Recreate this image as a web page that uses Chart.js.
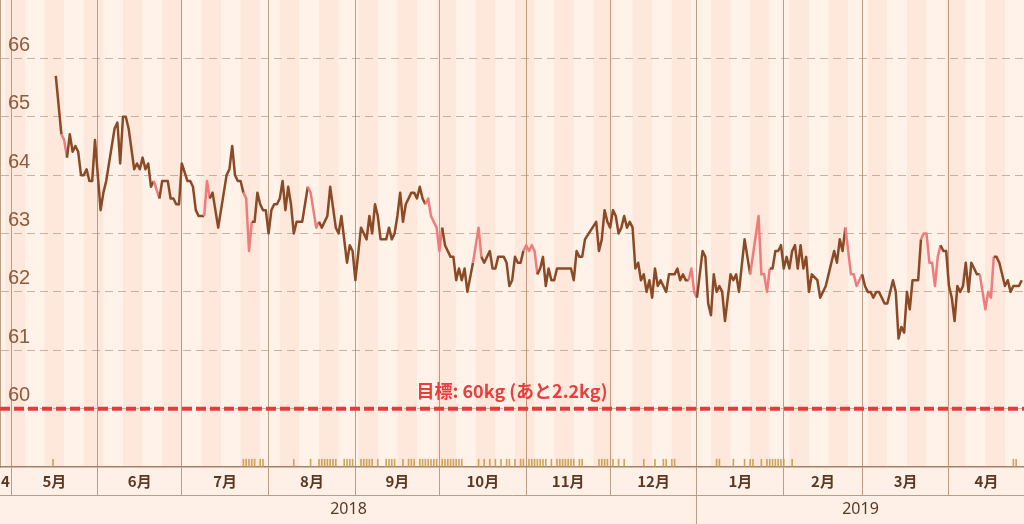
<!DOCTYPE html>
<html>
<head>
<meta charset="utf-8">
<script src="https://cdn.jsdelivr.net/npm/chart.js@4.4.0/dist/chart.umd.min.js"></script>
<style>
  html, body { margin: 0; padding: 0; background: #fef0e6; }
  #wrap { width: 1024px; height: 524px; }
</style>
</head>
<body>
<div id="wrap"><canvas id="chartWeight"></canvas></div>
<script>
// day numbers count from 2018-05-01 (day 0)
var days = [
  16, 18, 19, 20, 21, 22, 23, 24, 25, 26,
  27, 28, 29, 30, 32, 33, 34, 35, 37, 38,
  39, 40, 41, 42, 44, 45, 46, 47, 48, 49,
  50, 51, 53, 54, 56, 57, 58, 59, 60, 61,
  63, 64, 65, 66, 67, 69, 70, 71, 72, 74,
  76, 77, 78, 79, 80, 81, 82, 83, 84, 85,
  86, 87, 88, 89, 90, 91, 92, 93, 94, 95,
  96, 97, 98, 99, 100, 101, 102, 104, 106, 107,
  109, 110, 111, 113, 114, 116, 117, 118, 120, 121,
  122, 123, 125, 126, 127, 128, 129, 130, 131, 132,
  134, 135, 136, 137, 138, 139, 140, 141, 142, 143,
  144, 145, 146, 147, 148, 149, 150, 152, 153, 154,
  155, 157, 158, 159, 160, 161, 162, 163, 165, 167,
  168, 169, 170, 171, 172, 173, 174, 176, 177, 178,
  179, 180, 181, 182, 183, 184, 185, 186, 187, 188,
  189, 190, 191, 192, 193, 194, 195, 200, 201, 202,
  203, 204, 205, 209, 210, 211, 212, 213, 214, 215,
  216, 217, 218, 219, 220, 221, 222, 223, 224, 225,
  226, 227, 228, 229, 230, 231, 232, 234, 235, 237,
  238, 239, 240, 241, 242, 243, 244, 245, 246, 247,
  248, 249, 250, 251, 252, 253, 254, 255, 257, 258,
  259, 260, 262, 264, 267, 268, 269, 270, 271, 272,
  273, 274, 275, 276, 277, 278, 279, 280, 281, 282,
  283, 284, 285, 286, 288, 289, 291, 292, 294, 295,
  296, 297, 298, 300, 301, 302, 303, 304, 305, 306,
  307, 308, 309, 310, 312, 313, 315, 316, 317, 318,
  319, 320, 321, 322, 324, 325, 326, 327, 328, 329,
  330, 331, 332, 333, 334, 335, 336, 337, 338, 339,
  340, 341, 342, 343, 344, 345, 346, 347, 348, 349,
  350, 351, 352, 353, 355, 356, 357, 358, 360, 361
];
var weights = [
  65.7, 64.7, 64.6, 64.3, 64.7, 64.4, 64.5, 64.4, 64.0, 64.0,
  64.1, 63.9, 63.9, 64.6, 63.4, 63.7, 63.9, 64.2, 64.8, 64.9,
  64.2, 65.0, 65.0, 64.8, 64.1, 64.2, 64.1, 64.3, 64.1, 64.2,
  63.8, 63.9, 63.6, 63.9, 63.9, 63.6, 63.6, 63.5, 63.5, 64.2,
  63.9, 63.9, 63.8, 63.4, 63.3, 63.3, 63.9, 63.6, 63.7, 63.1,
  63.7, 64.0, 64.1, 64.5, 64.0, 63.9, 63.9, 63.7, 63.6, 62.7,
  63.2, 63.2, 63.7, 63.5, 63.4, 63.4, 63.0, 63.4, 63.5, 63.5,
  63.6, 63.9, 63.4, 63.8, 63.5, 63.0, 63.2, 63.2, 63.8, 63.7,
  63.1, 63.2, 63.1, 63.3, 63.8, 63.1, 63.0, 63.3, 62.5, 62.8,
  62.7, 62.2, 63.1, 63.0, 62.9, 63.3, 63.0, 63.5, 63.3, 62.9,
  62.9, 63.1, 62.9, 63.0, 63.3, 63.7, 63.2, 63.5, 63.6, 63.7,
  63.7, 63.6, 63.8, 63.6, 63.5, 63.6, 63.3, 63.1, 62.7, 63.1,
  62.8, 62.6, 62.6, 62.2, 62.4, 62.2, 62.4, 62.0, 62.5, 63.1,
  62.6, 62.5, 62.6, 62.7, 62.4, 62.4, 62.6, 62.6, 62.5, 62.1,
  62.2, 62.6, 62.5, 62.5, 62.7, 62.8, 62.7, 62.8, 62.7, 62.3,
  62.4, 62.6, 62.1, 62.4, 62.2, 62.2, 62.4, 62.4, 62.2, 62.7,
  62.6, 62.6, 62.9, 63.2, 62.7, 62.9, 63.4, 63.2, 63.1, 63.4,
  63.3, 63.0, 63.1, 63.3, 63.1, 63.2, 63.1, 62.4, 62.5, 62.2,
  62.3, 62.0, 62.2, 61.9, 62.4, 62.1, 62.2, 62.0, 62.3, 62.3,
  62.4, 62.2, 62.3, 62.2, 62.2, 62.4, 62.0, 61.9, 62.3, 62.7,
  62.6, 61.8, 61.6, 62.3, 62.0, 62.1, 62.0, 61.5, 62.3, 62.2,
  62.3, 62.0, 62.9, 62.3, 63.3, 62.3, 62.3, 62.0, 62.4, 62.4,
  62.7, 62.7, 62.8, 62.4, 62.6, 62.4, 62.7, 62.8, 62.4, 62.8,
  62.4, 62.6, 62.0, 62.3, 62.2, 61.9, 62.1, 62.3, 62.7, 62.5,
  62.9, 62.7, 63.1, 62.3, 62.3, 62.1, 62.2, 62.3, 62.1, 62.0,
  62.0, 61.9, 62.0, 62.0, 61.8, 61.8, 62.2, 62.0, 61.2, 61.4,
  61.3, 62.0, 61.7, 62.2, 62.2, 62.9, 63.0, 63.0, 62.5, 62.5,
  62.1, 62.6, 62.8, 62.7, 62.7, 62.1, 61.9, 61.5, 62.1, 62.0,
  62.1, 62.5, 62.0, 62.5, 62.4, 62.3, 62.3, 62.0, 61.7, 62.0,
  61.9, 62.6, 62.6, 62.5, 62.1, 62.2, 62.0, 62.1, 62.1, 62.2
];
// stretches drawn in pink (from day, to day)
var pinkSpans = [[18, 20], [51, 53], [69, 71], [83, 86], [106, 110], [148, 154], [165, 168],
  [183, 188], [242, 245], [264, 271], [298, 304], [325, 332], [346, 351]];
// small marks along the bottom
var markDays = [15, 83, 84, 85, 86, 87, 89, 90, 101, 107, 110, 111, 112, 113, 114, 115, 116,
  119, 120, 121, 122, 125, 126, 127, 128, 129, 131, 134, 135, 136, 137, 140, 142, 143, 144,
  146, 147, 148, 149, 150, 151, 152, 154, 155, 156, 157, 158, 159, 160, 161, 167, 169, 171,
  173, 175, 177, 178, 180, 182, 183, 185, 186, 187, 188, 189, 190, 191, 193, 195, 196, 197,
  198, 199, 200, 201, 203, 204, 210, 211, 212, 213, 215, 217, 219, 226, 230, 233, 234, 236,
  237, 252, 253, 258, 262, 264, 265, 268, 270, 271, 272, 273, 274, 275, 276, 279, 358, 359];
var monthLabels = ['5月', '6月', '7月', '8月', '9月', '10月', '11月', '12月', '1月', '2月', '3月', '4月'];
var firstLabel = '4';
var yearLabels = ['2018', '2019'];
var goal = 60;

var xMin = -3.93, xMax = 361.8;
var base = Date.UTC(2018, 4, 1);
function dayOf(y, m) { return (Date.UTC(y, m, 1) - base) / 864e5; }

var monthTicks = [{ value: xMin / 2, label: firstLabel }];
for (var m = 0; m < 12; m++) {
  var s = dayOf(2018, 4 + m);
  var e = Math.min(dayOf(2018, 5 + m), xMax);
  monthTicks.push({ value: s, label: '', edge: true });
  monthTicks.push({ value: (s + e) / 2, label: monthLabels[m] });
}
var newYear = dayOf(2019, 0);
var yearTicks = [
  { value: (xMin + newYear) / 2, label: yearLabels[0] },
  { value: newYear, label: '', edge: true },
  { value: (newYear + xMax) / 2, label: yearLabels[1] }
];

var brown = 'rgb(138, 74, 38)';
var pink = 'rgb(238, 124, 124)';
var lineTan = 'rgba(170, 128, 98, 0.75)';
var last = weights[weights.length - 1];

var points = days.map(function (d, i) { return { x: d, y: weights[i] }; });
var marks = markDays.map(function (d) { return { x: d, y: 1 }; });

function noSidePad(scale) { scale.paddingLeft = 0; scale.paddingRight = 0; }

var backdrop = {
  id: 'backdrop',
  beforeDraw: function (chart) {
    var ctx = chart.ctx, a = chart.chartArea, sx = chart.scales.x;
    ctx.save();
    ctx.fillStyle = '#fef0e6';
    ctx.fillRect(0, 0, chart.width, chart.height);
    // weekly bands, weeks start on Sunday (day 5 = 2018-05-06)
    var k = 0;
    for (var d = 5 - 14; d < xMax; d += 7, k++) {
      var x1 = Math.max(sx.getPixelForValue(d), a.left);
      var x2 = Math.min(sx.getPixelForValue(d + 7), a.right);
      if (x2 <= x1) continue;
      ctx.fillStyle = k % 2 === 0 ? 'rgb(255, 242, 233)' : 'rgb(253, 232, 219)';
      ctx.fillRect(x1, a.top, x2 - x1, a.bottom - a.top);
    }
    ctx.restore();
  }
};

var goalLabel = {
  id: 'goalLabel',
  afterDatasetsDraw: function (chart) {
    var ctx = chart.ctx, a = chart.chartArea;
    var y = chart.scales.y.getPixelForValue(goal);
    ctx.save();
    ctx.font = 'bold 18px "Noto Sans CJK JP", sans-serif';
    ctx.fillStyle = 'rgb(232, 62, 62)';
    ctx.textAlign = 'center';
    ctx.textBaseline = 'middle';
    ctx.fillText('目標: ' + goal + 'kg (あと' + (last - goal).toFixed(1) + 'kg)', (a.left + a.right) / 2, y - 17);
    ctx.restore();
  }
};

var ctx = document.getElementById('chartWeight').getContext('2d');
var myChart = new Chart(ctx, {
  type: 'line',
  data: {
    datasets: [{
      label: '体重',
      data: points,
      borderColor: brown,
      borderWidth: 2.5,
      pointRadius: 0,
      tension: 0,
      borderJoinStyle: 'round',
      segment: {
        borderColor: function (c) {
          var a = c.p0.parsed.x, b = c.p1.parsed.x;
          for (var i = 0; i < pinkSpans.length; i++) {
            if (a >= pinkSpans[i][0] && b <= pinkSpans[i][1]) return pink;
          }
          return undefined;
        }
      }
    }, {
      label: '目標',
      data: [{ x: xMin, y: goal }, { x: xMax, y: goal }],
      borderColor: 'rgb(232, 58, 62)',
      borderWidth: 4,
      borderDash: [10, 4],
      pointRadius: 0
    }, {
      type: 'bar',
      label: 'marks',
      data: marks,
      yAxisID: 'yMark',
      backgroundColor: 'rgba(196, 150, 72, 0.85)',
      barThickness: 1
    }]
  },
  options: {
    responsive: true,
    maintainAspectRatio: false,
    animation: false,
    layout: { padding: 0, autoPadding: false },
    plugins: {
      legend: { display: false },
      tooltip: { enabled: false }
    },
    scales: {
      x: {
        type: 'linear',
        position: 'bottom',
        weight: 0,
        offset: false,
        min: xMin,
        max: xMax,
        afterBuildTicks: function (scale) {
          scale.ticks = monthTicks.map(function (t) { return { value: t.value }; });
        },
        afterFit: function (scale) { scale.height = 28; noSidePad(scale); },
        grid: {
          offset: false,
          color: function (c) { return monthTicks[c.index] && monthTicks[c.index].edge ? lineTan : 'transparent'; },
          tickColor: function (c) { return monthTicks[c.index] && monthTicks[c.index].edge ? lineTan : 'transparent'; },
          tickLength: 28,
          lineWidth: 1
        },
        border: { display: true, color: 'rgba(160, 115, 85, 0.9)', width: 1.5 },
        ticks: {
          autoSkip: false,
          maxRotation: 0,
          padding: -23,
          color: 'rgb(92, 56, 34)',
          font: { family: '"Noto Sans CJK JP", sans-serif', size: 15, weight: 'bold' },
          callback: function (v, i) { return monthTicks[i] ? monthTicks[i].label : ''; }
        }
      },
      xYear: {
        type: 'linear',
        position: 'bottom',
        weight: 1,
        offset: false,
        min: xMin,
        max: xMax,
        afterBuildTicks: function (scale) {
          scale.ticks = yearTicks.map(function (t) { return { value: t.value }; });
        },
        afterFit: function (scale) { scale.height = 29; noSidePad(scale); },
        grid: {
          offset: false,
          drawOnChartArea: false,
          tickColor: function (c) { return yearTicks[c.index] && yearTicks[c.index].edge ? lineTan : 'transparent'; },
          tickLength: 29
        },
        border: { display: true, color: lineTan, width: 1 },
        ticks: {
          autoSkip: false,
          maxRotation: 0,
          padding: -24.5,
          color: 'rgb(92, 56, 34)',
          font: { family: '"Noto Sans", "Liberation Sans", sans-serif', size: 16 },
          callback: function (v, i) { return yearTicks[i] ? yearTicks[i].label : ''; }
        }
      },
      y: {
        position: 'left',
        min: 59,
        max: 67,
        afterFit: function (scale) { scale.width = 0; scale.paddingTop = 0; scale.paddingBottom = 0; },
        grid: {
          drawTicks: false,
          color: function (c) {
            var v = c.tick ? c.tick.value : 0;
            return (v === 59 || v === 67) ? 'transparent' : 'rgba(175, 145, 125, 0.65)';
          },
          lineWidth: 1
        },
        border: { display: true, color: lineTan, width: 2, dash: [8, 5] },
        ticks: {
          stepSize: 1,
          mirror: true,
          padding: 8,
          labelOffset: -13,
          color: 'rgb(140, 92, 62)',
          font: { family: '"Liberation Sans", "Noto Sans", sans-serif', size: 20 },
          callback: function (v) { return (v === 59 || v === 67) ? '' : v; }
        }
      },
      yMark: {
        display: false,
        min: 0,
        max: 60,
        afterFit: function (scale) { scale.width = 0; scale.paddingTop = 0; scale.paddingBottom = 0; }
      }
    }
  },
  plugins: [backdrop, goalLabel]
});
</script>
</body>
</html>
